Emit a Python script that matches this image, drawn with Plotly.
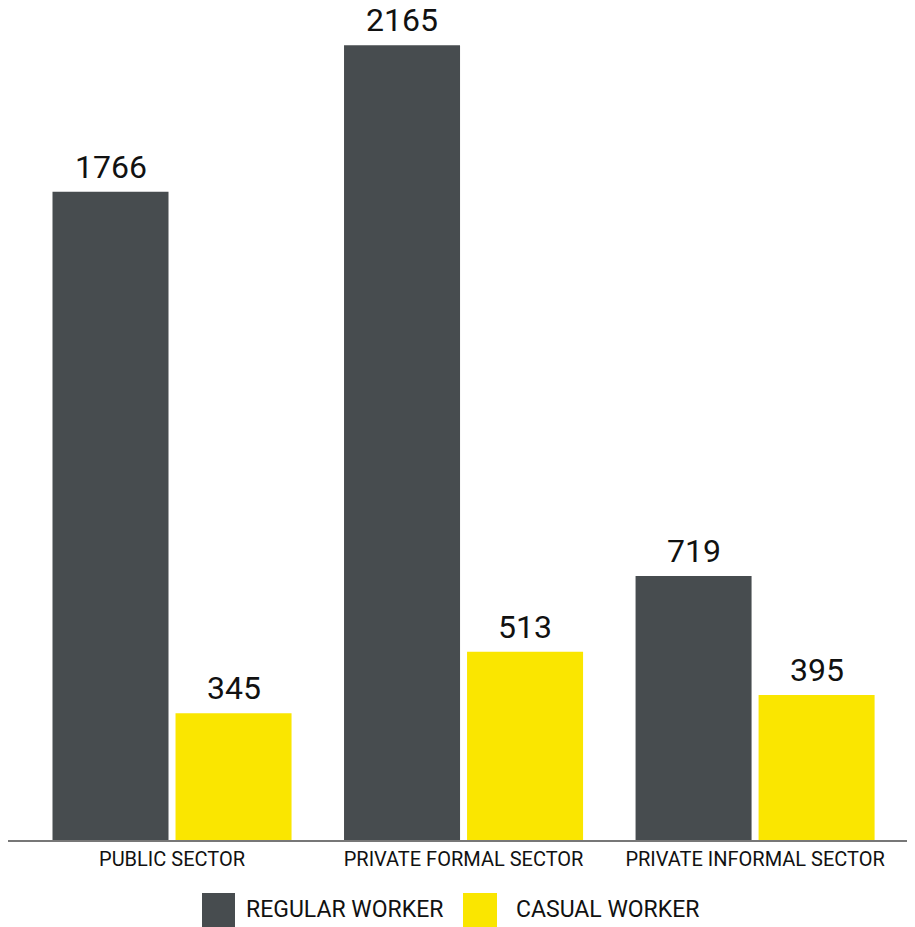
import plotly.graph_objects as go

categories = ["PUBLIC SECTOR", "PRIVATE FORMAL SECTOR", "PRIVATE INFORMAL SECTOR"]
regular = [1766, 2165, 719]
casual = [345, 513, 395]
series_names = ["REGULAR WORKER", "CASUAL WORKER"]

DARK = "#474c4f"
YELLOW = "#fae600"
FONT = "Roboto"

W, H = 915, 927
ML, MR, MT, MB = 0, 0, 6, 95
pw = W - ML - MR
ph = H - MT - MB

fig = go.Figure()
fig.add_trace(go.Bar(x=categories, y=regular, name=series_names[0],
                     marker=dict(color=DARK, line=dict(width=0)), showlegend=False))
fig.add_trace(go.Bar(x=categories, y=casual, name=series_names[1],
                     marker=dict(color=YELLOW, line=dict(width=0)), showlegend=False))

# value labels
for vals, shift in ((regular, -61.5), (casual, 61.5)):
    for c, v in zip(categories, vals):
        fig.add_annotation(x=c, y=v, text=str(v), showarrow=False, xshift=shift,
                           yanchor="bottom", yshift=5, borderpad=0,
                           font=dict(family=FONT, size=32, color="#111111"))

# custom legend (pixel positions converted to paper coordinates)
def px2x(p):
    return (p - ML) / pw

def px2y(p):
    return (H - MB - p) / ph

for (x0, x1), col, name, tx in (((194, 227), DARK, series_names[0], 236),
                                 ((455, 489), YELLOW, series_names[1], 506)):
    fig.add_shape(type="rect", xref="paper", yref="paper",
                  x0=px2x(x0), x1=px2x(x1), y0=px2y(927), y1=px2y(885),
                  fillcolor=col, line=dict(width=0))
    fig.add_annotation(xref="paper", yref="paper", x=px2x(tx), y=px2y(901),
                       xanchor="left", yanchor="middle", showarrow=False, text=name,
                       font=dict(family=FONT, size=23, color="#111111"))

fig.update_layout(
    width=W, height=H,
    margin=dict(l=ML, r=MR, t=MT, b=MB),
    paper_bgcolor="white", plot_bgcolor="white",
    barmode="group", bargap=0.156, bargroupgap=0.057,
    font=dict(family=FONT, color="#111111"),
    xaxis=dict(range=[-0.5626, 2.576], showgrid=False, showline=True,
               linecolor="#777777", linewidth=2, ticks="",
               tickfont=dict(family=FONT, size=20, color="#111111")),
    yaxis=dict(range=[0, 2250], visible=False, showgrid=False, zeroline=False),
)

fig.write_html("out.html")
